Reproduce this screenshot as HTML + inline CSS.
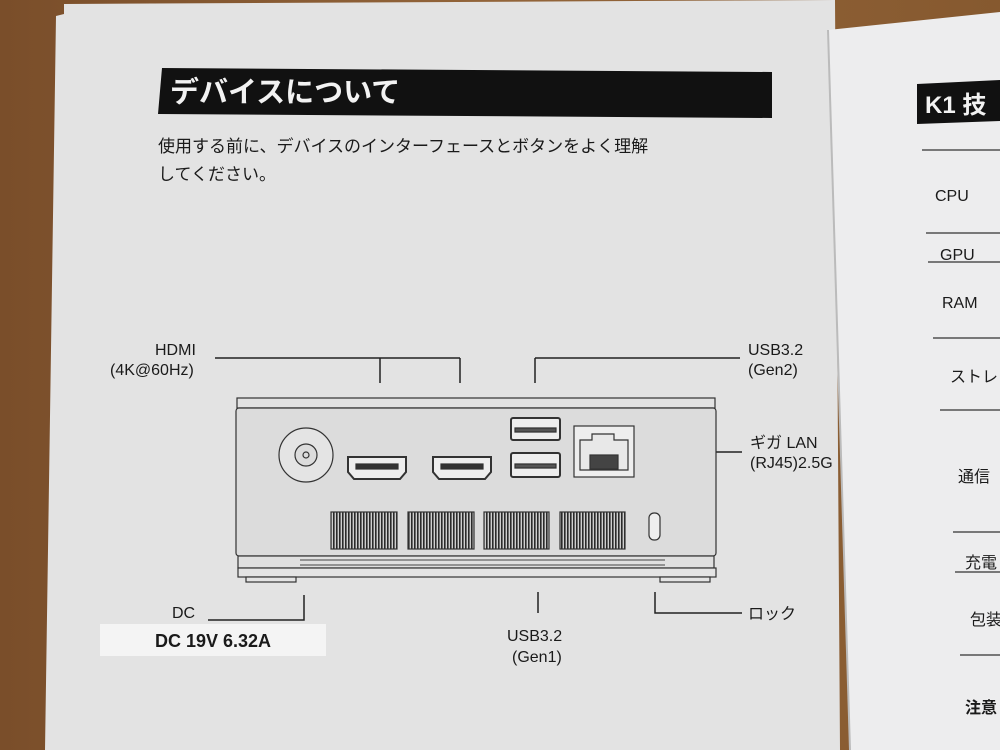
<!DOCTYPE html>
<html><head><meta charset="utf-8"><style>
body{margin:0;width:1000px;height:750px;overflow:hidden;background:#7a4f2c}
svg{display:block}
text{font-family:"Liberation Sans","Noto Sans CJK JP",sans-serif;fill:#1a1a1a}
</style></head><body>
<svg width="1000" height="750" viewBox="0 0 1000 750">
<defs>
<pattern id="vent" width="3" height="10" patternUnits="userSpaceOnUse"><rect width="3" height="10" fill="#cfcfcf"/><rect width="1.6" height="10" fill="#2a2a2a"/></pattern>
<linearGradient id="wood" x1="0" x2="1"><stop offset="0" stop-color="#7a4e2a"/><stop offset="0.5" stop-color="#93653a"/><stop offset="1" stop-color="#86592f"/></linearGradient>
</defs>
<rect width="1000" height="750" fill="url(#wood)"/>
<!-- left page -->
<path d="M64 4 L835 0 L840 750 L45 750 L56 16 L64 14 Z" fill="#e3e3e3"/>
<!-- right page -->
<path d="M828 30 L1000 12 L1000 750 L850 750 Z" fill="#ededee"/>
<line x1="828" y1="30" x2="850" y2="750" stroke="#bbb" stroke-width="2"/>
<!-- title -->
<path d="M162 68 L772 72 L772 118 L158 114 Z" fill="#111"/>
<text x="170" y="102" font-size="29" font-weight="bold" style="fill:#f2f2f2">デバイスについて</text>
<text x="158" y="152" font-size="17">使用する前に、デバイスのインターフェースとボタンをよく理解</text>
<text x="158" y="180" font-size="17">してください。</text>
<!-- connectors -->
<g stroke="#222" stroke-width="1.5" fill="none">
<path d="M215 358 H460 M380 358 V383 M460 358 V383"/>
<path d="M535 358 H740 M535 358 V383"/>
<path d="M665 452 H742"/>
<path d="M208 620 H304 V595"/>
<path d="M538 592 V613"/>
<path d="M655 592 V613 H742"/>
</g>
<text x="155" y="355" font-size="16">HDMI</text>
<text x="110" y="375" font-size="16">(4K@60Hz)</text>
<text x="748" y="355" font-size="16">USB3.2</text>
<text x="748" y="375" font-size="16">(Gen2)</text>
<text x="750" y="448" font-size="16">ギガ LAN</text>
<text x="750" y="468" font-size="16">(RJ45)2.5G</text>
<text x="172" y="618" font-size="16">DC</text>
<rect x="100" y="624" width="226" height="32" fill="#f4f4f4"/>
<text x="155" y="647" font-size="18" font-weight="bold">DC 19V 6.32A</text>
<text x="507" y="641" font-size="16">USB3.2</text>
<text x="512" y="662" font-size="16">(Gen1)</text>
<text x="748" y="619" font-size="16">ロック</text>
<!-- device -->
<g stroke="#333" stroke-width="1.2" fill="#dcdcdc">
<rect x="237" y="398" width="478" height="10" fill="#e2e2e2"/>
<rect x="236" y="408" width="480" height="148" rx="3"/>
<rect x="238" y="556" width="476" height="12" fill="#e0e0e0"/>
<rect x="238" y="568" width="478" height="9" fill="#e4e4e4"/>
<rect x="246" y="577" width="50" height="5" fill="#e4e4e4"/>
<rect x="660" y="577" width="50" height="5" fill="#e4e4e4"/>
<circle cx="306" cy="455" r="27" fill="#e4e4e4"/>
<circle cx="306" cy="455" r="11"/>
<circle cx="306" cy="455" r="3"/>
<path d="M348 457 H406 V472 L400 479 H354 L348 472 Z" fill="#eee" stroke-width="2"/>
<rect x="356" y="464" width="42" height="5" fill="#333"/>
<path d="M433 457 H491 V472 L485 479 H439 L433 472 Z" fill="#eee" stroke-width="2"/>
<rect x="441" y="464" width="42" height="5" fill="#333"/>
<rect x="511" y="418" width="49" height="22" rx="2" fill="#eee" stroke-width="2"/>
<path d="M515 428 H556 V432 H515 Z" fill="#555"/>
<rect x="511" y="453" width="49" height="24" rx="2" fill="#eee" stroke-width="2"/>
<path d="M515 464 H556 V468 H515 Z" fill="#555"/>
<rect x="574" y="426" width="60" height="51" fill="#eee"/>
<path d="M580 440 H592 V434 H614 V440 H628 V470 H580 Z" fill="#e8e8e8"/>
<rect x="590" y="455" width="28" height="14" fill="#444"/>
<rect x="649" y="513" width="11" height="27" rx="5" fill="#eee"/>
<rect x="331" y="512" width="66" height="37" fill="url(#vent)"/>
<rect x="408" y="512" width="66" height="37" fill="url(#vent)"/>
<rect x="484" y="512" width="65" height="37" fill="url(#vent)"/>
<rect x="560" y="512" width="65" height="37" fill="url(#vent)"/>
</g>
<g stroke="#444" stroke-width="1">
<path d="M300 560 H665 M300 565 H665"/>
</g>
<!-- right page content -->
<path d="M917 84 L1000 80 L1000 121 L917 124 Z" fill="#111"/>
<text x="925" y="113" font-size="24" font-weight="bold" style="fill:#f2f2f2">K1 技</text>
<g stroke="#333" stroke-width="1.2">
<path d="M922 150 H1000 M926 233 H1000 M928 262 H1000 M933 338 H1000 M940 410 H1000 M953 532 H1000 M955 572 H1000 M960 655 H1000"/>
</g>
<text x="935" y="201" font-size="16">CPU</text>
<text x="940" y="260" font-size="16">GPU</text>
<text x="942" y="308" font-size="16">RAM</text>
<text x="950" y="382" font-size="16">ストレ</text>
<text x="958" y="482" font-size="16">通信</text>
<text x="965" y="568" font-size="16">充電</text>
<text x="970" y="625" font-size="16">包装</text>
<text x="965" y="713" font-size="16" font-weight="bold">注意</text>
</svg>
</body></html>
